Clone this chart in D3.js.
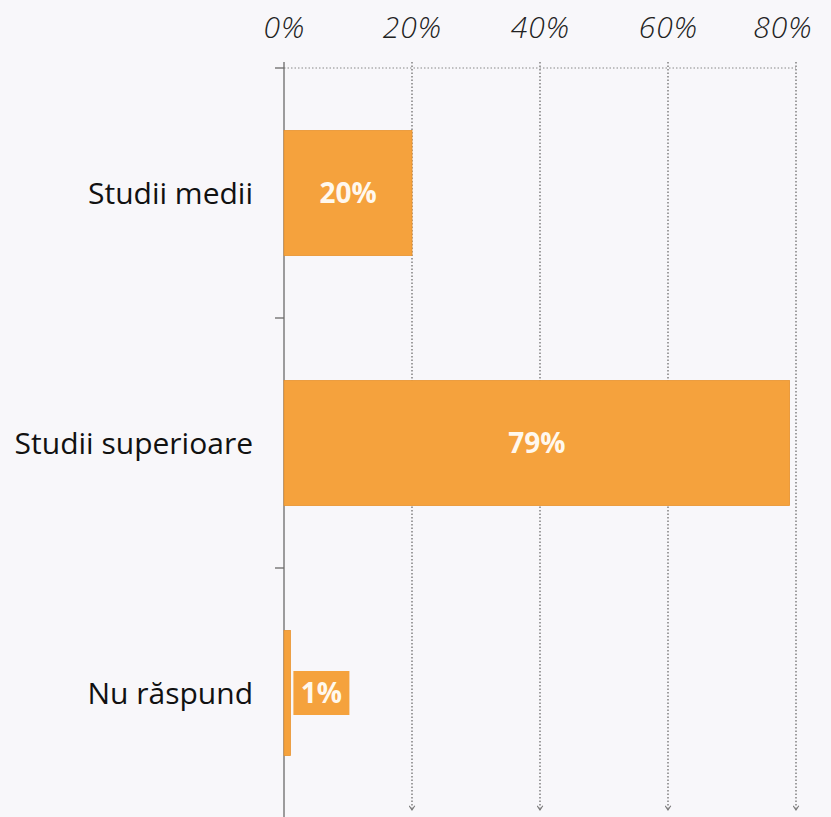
<!DOCTYPE html>
<html>
<head>
<meta charset="utf-8">
<script src="https://cdn.jsdelivr.net/npm/d3@7"></script>
<style>
  html, body { margin: 0; padding: 0; background: #f8f7fa; }
  svg { display: block; }
</style>
</head>
<body>
<svg id="chart" width="831" height="817"></svg>
<script>
// Level of education of respondents (%)
const categories = ["Studii medii", "Studii superioare", "Nu răspund"];
const values = [20, 79, 1];
const tickValues = [0, 20, 40, 60, 80];
const tickLabels = ["0%", "20%", "40%", "60%", "80%"];

const W = 831, H = 817;
const svg = d3.select("#chart");
const barColor = "#f5a23d";

const x = d3.scaleLinear().domain([0, 80]).range([284, 796]);
const y = d3.scaleBand().domain(categories).range([68, 818])
  .paddingInner(0.5).paddingOuter(0.25);

// arrowhead for the dotted gridlines (points along the line direction)
svg.append("defs").append("marker")
  .attr("id", "arrow").attr("viewBox", "0 0 10 10")
  .attr("refX", 8).attr("refY", 5)
  .attr("markerWidth", 7).attr("markerHeight", 7)
  .attr("markerUnits", "userSpaceOnUse")
  .attr("orient", "auto")
  .append("path").attr("d", "M2,1 L8,5 L2,9").attr("fill", "none")
  .attr("stroke", "#777").attr("stroke-width", 1.6);

// top axis labels; the last one is kept inside the page edge
const xAxis = d3.axisTop(x).tickValues(tickValues)
  .tickFormat((d, i) => tickLabels[i]).tickSize(0).tickPadding(0);
const gx = svg.append("g").attr("transform", "translate(0,38)").call(xAxis);
gx.select(".domain").remove();
gx.selectAll("text")
  .attr("dy", 0)
  .attr("font-family", "'Open Sans', sans-serif")
  .attr("font-style", "italic")
  .attr("font-weight", 300)
  .attr("font-size", 30)
  .attr("letter-spacing", 1)
  .attr("fill", "#222");
gx.selectAll("text").filter(d => d === 80)
  .attr("text-anchor", "end").attr("x", 16);

// horizontal dotted line under the labels
svg.append("line")
  .attr("x1", x(0)).attr("x2", x(80))
  .attr("y1", 68).attr("y2", 68)
  .attr("stroke", "#888").attr("stroke-width", 1)
  .attr("stroke-dasharray", "1.5,2");

// vertical dotted gridlines
svg.append("g").selectAll("line")
  .data(tickValues.filter(d => d > 0))
  .join("line")
  .attr("x1", d => x(d)).attr("x2", d => x(d))
  .attr("y1", 62).attr("y2", 810)
  .attr("stroke", "#6f6f6f").attr("stroke-width", 1.3)
  .attr("stroke-dasharray", "1.5,2")
  .attr("marker-end", "url(#arrow)");

// category axis (solid) with separator ticks
svg.append("line")
  .attr("x1", x(0)).attr("x2", x(0))
  .attr("y1", 62).attr("y2", H)
  .attr("stroke", "#6a6a6a").attr("stroke-width", 1.3);
const bounds = d3.range(categories.length).map(i => y.range()[0] + i * y.step());
svg.append("g").selectAll("line")
  .data(bounds)
  .join("line")
  .attr("x1", x(0) - 9).attr("x2", x(0))
  .attr("y1", d => d).attr("y2", d => d)
  .attr("stroke", "#6a6a6a").attr("stroke-width", 1.3);

// category labels
svg.append("g").selectAll("text")
  .data(categories)
  .join("text")
  .attr("x", 253)
  .attr("y", d => y(d) + y.bandwidth() / 2)
  .attr("dy", "0.35em")
  .attr("text-anchor", "end")
  .attr("font-family", "'Open Sans', sans-serif")
  .attr("font-size", 30)
  .attr("fill", "#111")
  .text(d => d);

// bars
svg.append("g").selectAll("rect")
  .data(categories)
  .join("rect")
  .attr("x", x(0))
  .attr("y", d => y(d))
  .attr("width", (d, i) => x(values[i]) - x(0))
  .attr("height", y.bandwidth())
  .attr("fill", barColor)
  .attr("stroke", "#e8922c").attr("stroke-width", 0.8);

// value labels: inside the bar, or in a small box when the bar is too thin
const lbl = svg.append("g");
categories.forEach((c, i) => {
  const v = values[i];
  const w = x(v) - x(0);
  const cy = y(c) + y.bandwidth() / 2;
  const txt = v + "%";
  let cx = x(0) + w / 2;
  if (w <= 70) {
    const bx = x(v) + 3, bw = 56, bh = 44;
    lbl.append("rect")
      .attr("x", bx).attr("y", cy - bh / 2)
      .attr("width", bw).attr("height", bh)
      .attr("fill", barColor);
    cx = bx + bw / 2;
  }
  lbl.append("text")
    .attr("x", cx).attr("y", cy).attr("dy", "0.36em")
    .attr("text-anchor", "middle")
    .attr("font-family", "'Open Sans', sans-serif")
    .attr("font-weight", "bold").attr("font-size", 28)
    .attr("fill", "#fff8ee").text(txt);
});
</script>
</body>
</html>
